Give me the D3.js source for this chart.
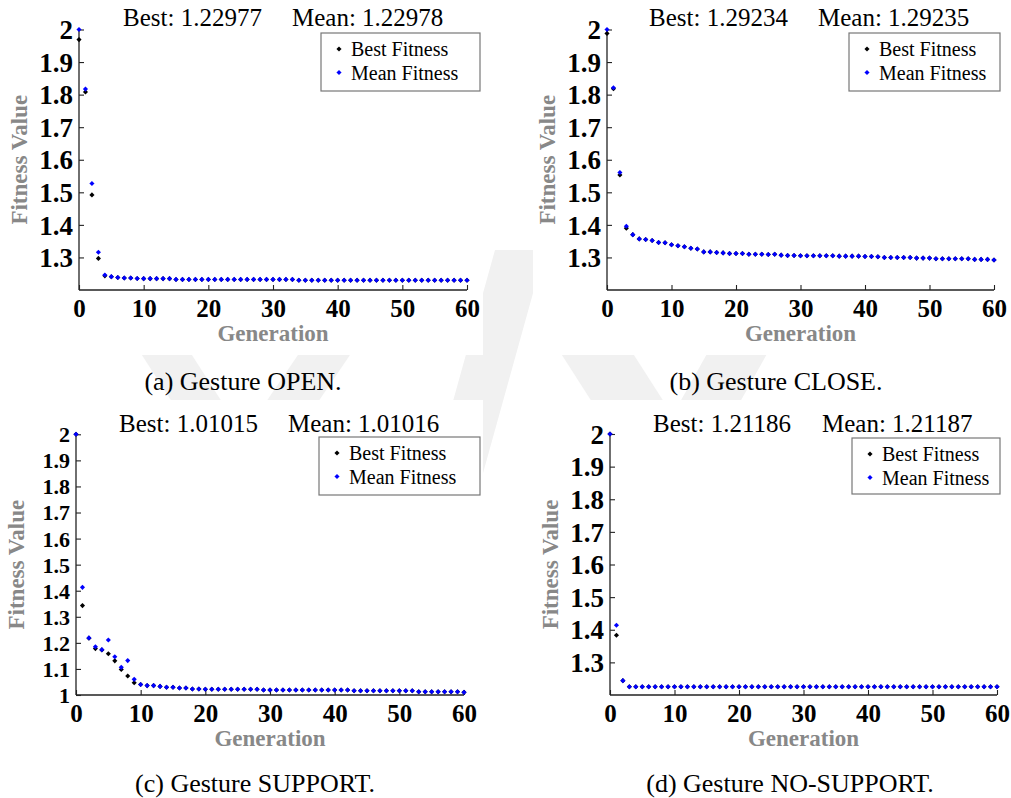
<!DOCTYPE html>
<html>
<head>
<meta charset="utf-8">
<script src="https://cdn.jsdelivr.net/npm/d3@7"></script>
<style>
  body { margin: 0; background: #fff; }
  svg { display: block; }
  text { font-family: "Liberation Serif", "Times New Roman", Times, serif; }
</style>
</head>
<body>
<svg id="fig" width="1011" height="798"></svg>
<script>
// ---- data: fitness per generation (index = generation 0..60) ----
const openBest = [1.969, 1.808, 1.492, 1.297, 1.2435, 1.2409, 1.2384, 1.2369, 1.2369, 1.2354,
  1.2349, 1.2349, 1.2349, 1.2349, 1.2349,
  1.2324, 1.2324, 1.2324, 1.2324, 1.2324, 1.2324, 1.2324, 1.2324, 1.2324, 1.2324,
  1.2324, 1.2324, 1.2324, 1.2324, 1.2324, 1.2324, 1.2324, 1.2324, 1.2324,
  1.2299, 1.2299, 1.2299, 1.2299, 1.2299, 1.2299, 1.2299, 1.2299, 1.2299, 1.2299,
  1.2299, 1.2299, 1.2299, 1.2299, 1.2299, 1.2299, 1.2299, 1.2299, 1.2299, 1.2299,
  1.2299, 1.2299, 1.2298, 1.2298, 1.2298, 1.2298, 1.22977];
const openMean = [2.000, 1.817, 1.527, 1.316, 1.246, 1.241, 1.2385, 1.237, 1.237, 1.2355,
  1.235, 1.235, 1.235, 1.235, 1.235,
  1.2325, 1.2325, 1.2325, 1.2325, 1.2325, 1.2325, 1.2325, 1.2325, 1.2325, 1.2325,
  1.2325, 1.2325, 1.2325, 1.2325, 1.2325, 1.2325, 1.2325, 1.2325, 1.2325,
  1.2300, 1.2300, 1.2300, 1.2300, 1.2300, 1.2300, 1.2300, 1.2300, 1.2300, 1.2300,
  1.2300, 1.2300, 1.2300, 1.2300, 1.2300, 1.2300, 1.2300, 1.2300, 1.2300, 1.2300,
  1.2300, 1.2300, 1.2299, 1.2299, 1.2299, 1.2299, 1.22978];

const closeBest = [1.988, 1.818, 1.553, 1.390, 1.370, 1.357, 1.355, 1.352, 1.346, 1.345,
  1.339, 1.336, 1.333, 1.328, 1.326, 1.317, 1.317, 1.315, 1.314, 1.312,
  1.312, 1.312, 1.310, 1.310, 1.310, 1.309, 1.310, 1.307, 1.306, 1.306,
  1.305, 1.305, 1.305, 1.305, 1.305, 1.305, 1.304, 1.304, 1.304, 1.304,
  1.303, 1.303, 1.302, 1.300, 1.300, 1.300, 1.300, 1.300, 1.298, 1.298,
  1.298, 1.296, 1.296, 1.296, 1.296, 1.296, 1.296, 1.294, 1.294, 1.294, 1.29234];
const closeMean = [2.000, 1.821, 1.561, 1.396, 1.370, 1.357, 1.355, 1.352, 1.346, 1.345,
  1.339, 1.336, 1.333, 1.328, 1.326, 1.317, 1.317, 1.315, 1.314, 1.312,
  1.312, 1.312, 1.310, 1.310, 1.310, 1.309, 1.310, 1.307, 1.306, 1.306,
  1.305, 1.305, 1.305, 1.305, 1.305, 1.305, 1.304, 1.304, 1.304, 1.304,
  1.303, 1.303, 1.302, 1.300, 1.300, 1.300, 1.300, 1.300, 1.298, 1.298,
  1.298, 1.296, 1.296, 1.296, 1.296, 1.296, 1.296, 1.294, 1.294, 1.294, 1.29235];

const supportBest = [2.000, 1.343, 1.218, 1.178, 1.173, 1.158, 1.131, 1.098, 1.073, 1.047,
  1.040, 1.036, 1.036, 1.033, 1.030, 1.030, 1.027, 1.027, 1.023, 1.023,
  1.022, 1.022, 1.022, 1.022, 1.022, 1.022, 1.022, 1.022, 1.022,
  1.019, 1.019, 1.019, 1.019, 1.019, 1.019, 1.019, 1.019, 1.019, 1.019, 1.019, 1.019, 1.019, 1.019,
  1.0165, 1.0165, 1.0165, 1.0165, 1.0165, 1.0165, 1.0165, 1.0165, 1.0165, 1.0165,
  1.0127, 1.0127, 1.0127, 1.0127, 1.0127, 1.0127, 1.0127, 1.01015];
const supportMean = [2.000, 1.413, 1.219, 1.185, 1.174, 1.211, 1.147, 1.106, 1.132, 1.060,
  1.040, 1.036, 1.036, 1.033, 1.030, 1.030, 1.027, 1.027, 1.023, 1.023,
  1.022, 1.022, 1.022, 1.022, 1.022, 1.022, 1.022, 1.022, 1.022,
  1.019, 1.019, 1.019, 1.019, 1.019, 1.019, 1.019, 1.019, 1.019, 1.019, 1.019, 1.019, 1.019, 1.019,
  1.0165, 1.0165, 1.0165, 1.0165, 1.0165, 1.0165, 1.0165, 1.0165, 1.0165, 1.0165,
  1.0127, 1.0127, 1.0127, 1.0127, 1.0127, 1.0127, 1.0127, 1.01016];

const noSupportBest = [2.000, 1.383, 1.244,
  1.2255, 1.2255, 1.2255, 1.2255, 1.2255, 1.2255, 1.2255, 1.2255, 1.2255, 1.2255,
  1.2255, 1.2255, 1.2255, 1.2255, 1.2255, 1.2255, 1.2255, 1.2255, 1.2255, 1.2255,
  1.2255, 1.2255, 1.2255, 1.2255, 1.2255, 1.2255, 1.2255, 1.2255, 1.2255, 1.2255,
  1.2255, 1.2255, 1.2255, 1.2255, 1.2255, 1.2255, 1.2255, 1.2255, 1.2255, 1.2255,
  1.2255, 1.2255, 1.2255, 1.2255, 1.2255, 1.2255, 1.2255, 1.2255, 1.2255, 1.2255,
  1.2255, 1.2255, 1.2255, 1.2255, 1.2255, 1.2255, 1.2255, 1.2255];
const noSupportMean = [2.000, 1.414, 1.244,
  1.2255, 1.2255, 1.2255, 1.2255, 1.2255, 1.2255, 1.2255, 1.2255, 1.2255, 1.2255,
  1.2255, 1.2255, 1.2255, 1.2255, 1.2255, 1.2255, 1.2255, 1.2255, 1.2255, 1.2255,
  1.2255, 1.2255, 1.2255, 1.2255, 1.2255, 1.2255, 1.2255, 1.2255, 1.2255, 1.2255,
  1.2255, 1.2255, 1.2255, 1.2255, 1.2255, 1.2255, 1.2255, 1.2255, 1.2255, 1.2255,
  1.2255, 1.2255, 1.2255, 1.2255, 1.2255, 1.2255, 1.2255, 1.2255, 1.2255, 1.2255,
  1.2255, 1.2255, 1.2255, 1.2255, 1.2255, 1.2255, 1.2255, 1.2255];

// ---- labels and ticks ----
const bestLabels = ["Best: 1.22977", "Best: 1.29234", "Best: 1.01015", "Best: 1.21186"];
const meanLabels = ["Mean: 1.22978", "Mean: 1.29235", "Mean: 1.01016", "Mean: 1.21187"];
const captions = ["(a) Gesture OPEN.", "(b) Gesture CLOSE.", "(c) Gesture SUPPORT.", "(d) Gesture NO-SUPPORT."];
const seriesNames = ["Best Fitness", "Mean Fitness"];
const generationTicks = [0, 10, 20, 30, 40, 50, 60];
const fitnessTicksHigh = [1.3, 1.4, 1.5, 1.6, 1.7, 1.8, 1.9, 2];
const fitnessTicksFull = [1, 1.1, 1.2, 1.3, 1.4, 1.5, 1.6, 1.7, 1.8, 1.9, 2];
const yDomainHigh = [1.2, 2];
const yDomainFull = [1, 2];
const genDomain = [0, 60];

const seriesColors = ["#000000", "#0000ff"];

// ---- panel layout ----
const panels = [
  { best: openBest, mean: openMean, yDomain: yDomainHigh, yTicks: fitnessTicksHigh, yTickSize: 27,
    x0: 79, x1: 467, yTop: 29.5, yBot: 290, titleX: 123, titleY: 26,
    legend: { x: 321, y: 33, w: 159, h: 58 }, capX: 243, capY: 390 },
  { best: closeBest, mean: closeMean, yDomain: yDomainHigh, yTicks: fitnessTicksHigh, yTickSize: 27,
    x0: 607, x1: 994, yTop: 29.5, yBot: 290, titleX: 649, titleY: 26,
    legend: { x: 849, y: 33, w: 151, h: 58 }, capX: 776, capY: 390 },
  { best: supportBest, mean: supportMean, yDomain: yDomainFull, yTicks: fitnessTicksFull, yTickSize: 22,
    x0: 76, x1: 464, yTop: 434.3, yBot: 695, titleX: 119, titleY: 432,
    legend: { x: 319, y: 437, w: 161, h: 58 }, capX: 255, capY: 792 },
  { best: noSupportBest, mean: noSupportMean, yDomain: yDomainHigh, yTicks: fitnessTicksHigh, yTickSize: 27,
    x0: 610, x1: 997, yTop: 434, yBot: 695, titleX: 653, titleY: 432,
    legend: { x: 852, y: 438, w: 148, h: 56 }, capX: 790, capY: 792 }
];

const svg = d3.select("#fig");

// faint background emblem behind the figure grid
const emblem = svg.append("g").attr("fill", "#f1f1f1");
[
  [[140,352],[190,352],[222,402],[172,402]],
  [[300,352],[352,352],[318,402],[266,402]],
  [[495,250],[545,250],[445,610],[395,610]],
  [[560,352],[632,352],[664,402],[592,402]],
  [[708,352],[768,352],[740,402],[680,402]]
].forEach(p => emblem.append("polygon").attr("points", p.map(q => q.join(",")).join(" ")));

// white plot backgrounds
svg.append("g").attr("fill", "#ffffff")
  .selectAll("rect")
  .data([[8,0,475,355],[533,0,478,355],[0,400,483,370],[560,400,451,370]])
  .join("rect")
  .attr("x", d => d[0]).attr("y", d => d[1]).attr("width", d => d[2]).attr("height", d => d[3]);

const diamond = d3.symbol().type(d3.symbolSquare).size(13)();

panels.forEach((p, k) => {
  const g = svg.append("g");
  const x = d3.scaleLinear().domain(genDomain).range([p.x0, p.x1]);
  const y = d3.scaleLinear().domain(p.yDomain).range([p.yBot, p.yTop]);

  // axes: ticks point inward
  const xAxis = d3.axisBottom(x).tickValues(generationTicks).tickSizeInner(-5).tickSizeOuter(0).tickPadding(9);
  const yAxis = d3.axisLeft(y).tickValues(p.yTicks).tickSizeInner(-5).tickSizeOuter(0).tickPadding(6)
    .tickFormat(d3.format("~g"));

  const gx = g.append("g").attr("transform", `translate(0,${p.yBot})`).call(xAxis);
  const gy = g.append("g").attr("transform", `translate(${p.x0},0)`).call(yAxis);
  [gx, gy].forEach(a => {
    a.select(".domain").attr("stroke", "#222").attr("stroke-width", 1.3);
    a.selectAll(".tick line").attr("stroke", "#222").attr("stroke-width", 1.1);
    a.selectAll(".tick text")
      .attr("fill", "#000")
      .attr("font-family", "'Liberation Serif', 'Times New Roman', serif")
      .attr("font-weight", "bold");
  });
  gx.selectAll(".tick text").attr("font-size", 25).attr("dy", "0.71em");
  gy.selectAll(".tick text").attr("font-size", p.yTickSize).attr("dy", "0.34em");
  // axis lines span exactly the plotted range
  gx.select(".domain").attr("d", `M${p.x0},0H${p.x1}`);
  gy.select(".domain").attr("d", `M0,${p.yBot}V${p.yTop}`);

  // axis titles
  g.append("text")
    .attr("x", (p.x0 + p.x1) / 2).attr("y", p.yBot + 51)
    .attr("text-anchor", "middle").attr("font-size", 23).attr("font-weight", "bold")
    .attr("fill", "#888").text("Generation");
  g.append("text")
    .attr("transform", `translate(${p.x0 - 52},${(p.yTop + p.yBot) / 2}) rotate(-90)`)
    .attr("text-anchor", "middle").attr("font-size", 23).attr("font-weight", "bold")
    .attr("fill", "#888").text("Fitness Value");

  // points: best first, mean drawn over it
  [p.best, p.mean].forEach((vals, s) => {
    g.append("g").selectAll("path")
      .data(vals)
      .join("path")
      .attr("d", diamond)
      .attr("transform", (v, i) => `translate(${x(i)},${y(v)}) rotate(45)`)
      .attr("fill", seriesColors[s]);
  });

  // summary header
  g.append("text").attr("x", p.titleX).attr("y", p.titleY)
    .attr("font-size", 25).attr("fill", "#000").text(bestLabels[k]);
  g.append("text").attr("x", p.titleX + 169).attr("y", p.titleY)
    .attr("font-size", 25).attr("fill", "#000").text(meanLabels[k]);

  // legend
  const L = p.legend;
  const lg = g.append("g");
  lg.append("rect").attr("x", L.x).attr("y", L.y).attr("width", L.w).attr("height", L.h)
    .attr("fill", "#fff").attr("stroke", "#777").attr("stroke-width", 1.2);
  seriesNames.forEach((name, s) => {
    const cy = L.y + 16 + s * 23.5;
    lg.append("path").attr("d", diamond)
      .attr("transform", `translate(${L.x + 18},${cy}) rotate(45)`)
      .attr("fill", seriesColors[s]);
    lg.append("text").attr("x", L.x + 30).attr("y", cy + 7)
      .attr("font-size", 20).attr("fill", "#000").text(name);
  });

  // caption
  svg.append("text").attr("x", p.capX).attr("y", p.capY)
    .attr("text-anchor", "middle").attr("font-size", 26).attr("fill", "#000")
    .text(captions[k]);
});
</script>
</body>
</html>
